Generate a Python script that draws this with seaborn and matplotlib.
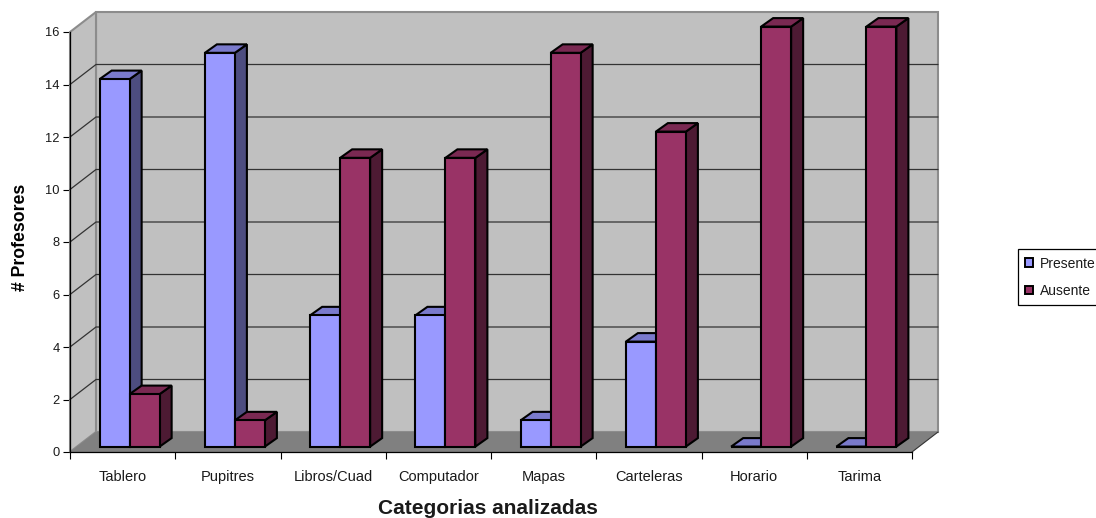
import matplotlib
matplotlib.use("Agg")
import matplotlib.pyplot as plt
from matplotlib.patches import Polygon
from matplotlib.ticker import FixedLocator
import pandas as pd
import seaborn as sns

categorias = ["Tablero", "Pupitres", "Libros/Cuad", "Computador", "Mapas",
              "Carteleras", "Horario", "Tarima"]
presente = [14, 15, 5, 5, 1, 4, 0, 0]
ausente = [2, 1, 11, 11, 15, 12, 16, 16]
series = ["Presente", "Ausente"]
eje_y = list(range(0, 17, 2))

FRONT = {"Presente": "#9999FF", "Ausente": "#993366"}
SIDE = {"Presente": "#4D4D80", "Ausente": "#4D1A33"}
TOP = {"Presente": "#7A7ACC", "Ausente": "#7A2952"}
WALL, FLOOR, EDGE = "#C0C0C0", "#808080", "#8C8C8C"

sns.set_theme(style="white")
plt.rcParams["font.family"] = ["Liberation Sans", "DejaVu Sans"]

W, H = 1096, 518
fig = plt.figure(figsize=(W / 100, H / 100), dpi=100, facecolor="white")
ax = fig.add_axes([70 / W, (H - 452) / H, 842 / W, 420 / H])

df = pd.DataFrame({
    "Categoria": categorias * 2,
    "Profesores": presente + ausente,
    "Serie": [series[0]] * len(categorias) + [series[1]] * len(categorias),
})
sns.barplot(data=df, x="Categoria", y="Profesores", hue="Serie", hue_order=series,
            palette=FRONT, order=categorias, width=0.57, gap=0, dodge=True,
            saturation=1, errorbar=None, ax=ax, legend=False)
bars = list(ax.patches)

ax.set_xlim(-0.5, len(categorias) - 0.5)
ax.set_ylim(0, 16)

# Oblique projection: one unit of depth in data units along each axis
cat_px = 842 / len(categorias)
val_px = 420 / 16
DX, DY = 26 / cat_px, 20 / val_px
x0, x1 = ax.get_xlim()
y0, y1 = ax.get_ylim()


def box(points, face, edge="none", lw=0.0, z=1):
    ax.add_patch(Polygon(points, closed=True, facecolor=face, edgecolor=edge,
                         linewidth=lw, zorder=z, clip_on=False, joinstyle="miter"))


# Back wall, side wall and floor
box([(x0 + DX, y0 + DY), (x1 + DX, y0 + DY), (x1 + DX, y1 + DY), (x0 + DX, y1 + DY)],
    WALL, EDGE, 1.5, 0.5)
box([(x0, y0), (x0 + DX, y0 + DY), (x0 + DX, y1 + DY), (x0, y1)], WALL, EDGE, 1.5, 0.6)
box([(x0, y0), (x1, y0), (x1 + DX, y0 + DY), (x0 + DX, y0 + DY)], FLOOR, "none", 0, 0.7)

for v in eje_y[1:-1]:
    ax.plot([x0, x0 + DX, x1 + DX], [v, v + DY, v + DY], color="#333333", lw=0.9,
            zorder=0.9, clip_on=False)
ax.plot([x1, x1 + DX], [y0, y0 + DY], color="#333333", lw=0.8, zorder=0.9, clip_on=False)

# Extrude every bar backwards from the rectangle that seaborn drew
SHIFT = 0.27
BAR_DX, BAR_DY = 12 / cat_px, 8.5 / val_px
LW = 1.5
n = len(categorias)
for i, bar in enumerate(bars):
    serie = series[i // n]
    z = 3 + i // n + (i % n) * 0.01
    bar.set_x(bar.get_x() + SHIFT * DX)
    bar.set_y(SHIFT * DY)
    bar.set_facecolor(FRONT[serie])
    bar.set_edgecolor("black")
    bar.set_linewidth(LW)
    bar.set_zorder(z + 0.002)
    bar.set_clip_on(False)
    bar.set_joinstyle("miter")
    xa, xb = bar.get_x(), bar.get_x() + bar.get_width()
    ya, yb = bar.get_y(), bar.get_y() + bar.get_height()
    if bar.get_height() > 0:
        box([(xb, ya), (xb + BAR_DX, ya + BAR_DY), (xb + BAR_DX, yb + BAR_DY), (xb, yb)],
            SIDE[serie], "black", LW, z)
    box([(xa, yb), (xb, yb), (xb + BAR_DX, yb + BAR_DY), (xa + BAR_DX, yb + BAR_DY)],
        TOP[serie], "black", LW, z + 0.001)

# Axes, ticks and labels
sns.despine(ax=ax, top=True, right=True)
for side in ("left", "bottom"):
    ax.spines[side].set_color("black")
    ax.spines[side].set_linewidth(0.9)
    ax.spines[side].set_zorder(2)
ax.set_yticks(eje_y)
ax.set_xticks(range(n))
ax.set_xticklabels(categorias)
ax.xaxis.set_minor_locator(FixedLocator([i - 0.5 for i in range(n + 1)]))
ax.tick_params(axis="x", which="major", length=0, pad=13, labelsize=10.5, colors="#1a1a1a")
ax.tick_params(axis="x", which="minor", length=5, width=0.8, color="black", bottom=True)
ax.tick_params(axis="y", length=5, width=0.8, color="black", left=True, pad=2.5,
               labelsize=9.3, labelcolor="#1a1a1a")
ax.set_xlabel("Categorias analizadas", fontsize=15, fontweight="bold", color="#1a1a1a")
ax.xaxis.set_label_coords((488 - 70) / 842, -(509 - 452) / 420, ax.transAxes)
ax.xaxis.label.set_va("center")
ax.set_ylabel("# Profesores", fontsize=12.7, fontweight="bold", color="black")
ax.yaxis.set_label_coords((21 - 70) / 842, (452 - 237) / 420, ax.transAxes)
ax.yaxis.label.set_va("center")

# Legend box, running past the right edge of the figure
handles = [plt.Rectangle((0, 0), 1, 1, facecolor=FRONT[s], edgecolor="black", linewidth=1.4)
           for s in series]
leg = fig.legend(handles, series, loc="upper left",
                 bbox_to_anchor=(1017.5 / W, (H - 249) / H), bbox_transform=fig.transFigure,
                 fontsize=10, fancybox=False, framealpha=1, edgecolor="black",
                 borderaxespad=0, borderpad=0.55, labelspacing=0.95,
                 handlelength=0.6, handleheight=0.6, handletextpad=0.45)
leg.get_frame().set_linewidth(0.9)
for t in leg.get_texts():
    t.set_color("#1a1a1a")

fig.savefig("out.png", dpi=100)
